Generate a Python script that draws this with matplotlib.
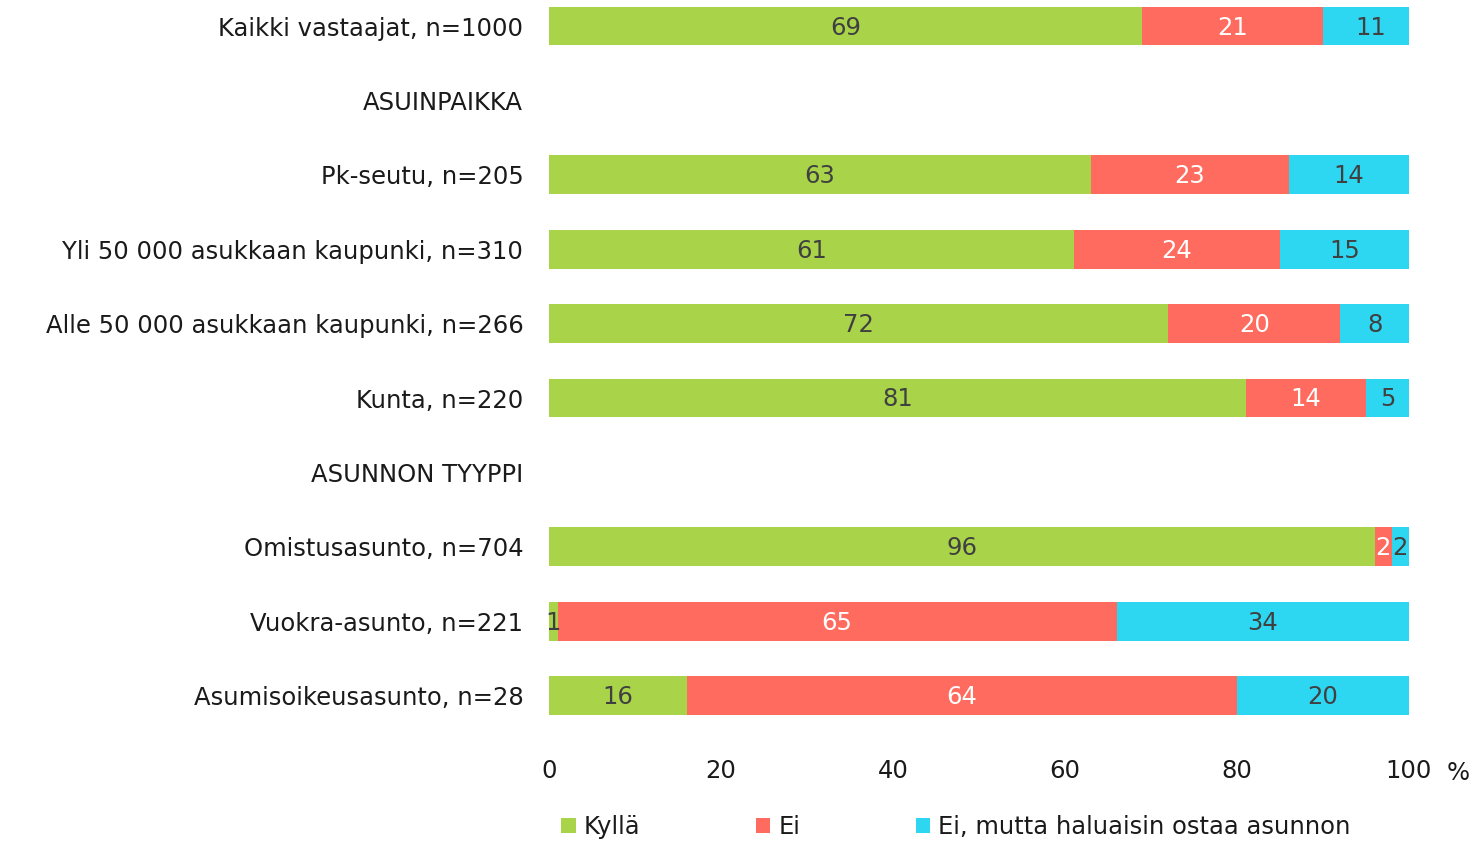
import matplotlib
matplotlib.use("Agg")
import matplotlib.pyplot as plt
from matplotlib.patches import Patch

plt.rcParams["font.family"] = ["DejaVu Sans"]

categories = [
    "Kaikki vastaajat, n=1000",
    "ASUINPAIKKA",
    "Pk-seutu, n=205",
    "Yli 50 000 asukkaan kaupunki, n=310",
    "Alle 50 000 asukkaan kaupunki, n=266",
    "Kunta, n=220",
    "ASUNNON TYYPPI",
    "Omistusasunto, n=704",
    "Vuokra-asunto, n=221",
    "Asumisoikeusasunto, n=28",
]
# None = header row without a bar
kylla = [69, None, 63, 61, 72, 81, None, 96, 1, 16]
ei = [21, None, 23, 24, 20, 14, None, 2, 65, 64]
ei_mutta = [11, None, 14, 15, 8, 5, None, 2, 34, 20]

series_names = ["Kyllä", "Ei", "Ei, mutta haluaisin ostaa asunnon"]
colors = ["#A9D44A", "#FF6B5E", "#2DD7F2"]
text_colors = ["#404040", "white", "#404040"]
x_ticks = [0, 20, 40, 60, 80, 100]

fs = 17.5
txt = "#1a1a1a"

fig = plt.figure(figsize=(14.73, 8.42), dpi=100)
ax = fig.add_axes([549 / 1473, 1 - 735 / 842, 860 / 1473, 735 / 842])

rows = list(range(len(categories)))
for i in rows:
    if kylla[i] is None:
        continue
    left = 0
    vals = [kylla[i], ei[i], ei_mutta[i]]
    for j, v in enumerate(vals):
        ax.barh(i, v, left=left, height=0.52, color=colors[j], edgecolor="none")
        ax.text(left + v / 2, i + 0.02, str(v), ha="center", va="center",
                fontsize=fs, color=text_colors[j])
        left += v

ax.set_ylim(9.53, -0.35)
ax.set_xlim(0, 100)
ax.set_yticks(rows)
ax.set_yticklabels(categories, fontsize=fs, color=txt)
ax.set_xticks(x_ticks)
ax.set_xticklabels([str(t) for t in x_ticks], fontsize=fs, color=txt)
ax.tick_params(axis="both", length=0)
ax.tick_params(axis="y", pad=18.5)
ax.tick_params(axis="x", pad=17)
for s in ax.spines.values():
    s.set_visible(False)

fig.text(1458 / 1473, 1 - 773 / 842, "%", fontsize=fs, ha="center", va="center", color=txt)

handles = [Patch(facecolor=c, edgecolor="none") for c in colors]
fig.legend(handles, series_names, loc="center left", bbox_to_anchor=(561 / 1473, 1 - 827 / 842),
           ncol=3, frameon=False, fontsize=fs, handlelength=0.6, handleheight=0.6,
           handletextpad=0.33, columnspacing=4.75, borderpad=0, borderaxespad=0,
           labelcolor=txt)

fig.savefig("out.png", dpi=100)
